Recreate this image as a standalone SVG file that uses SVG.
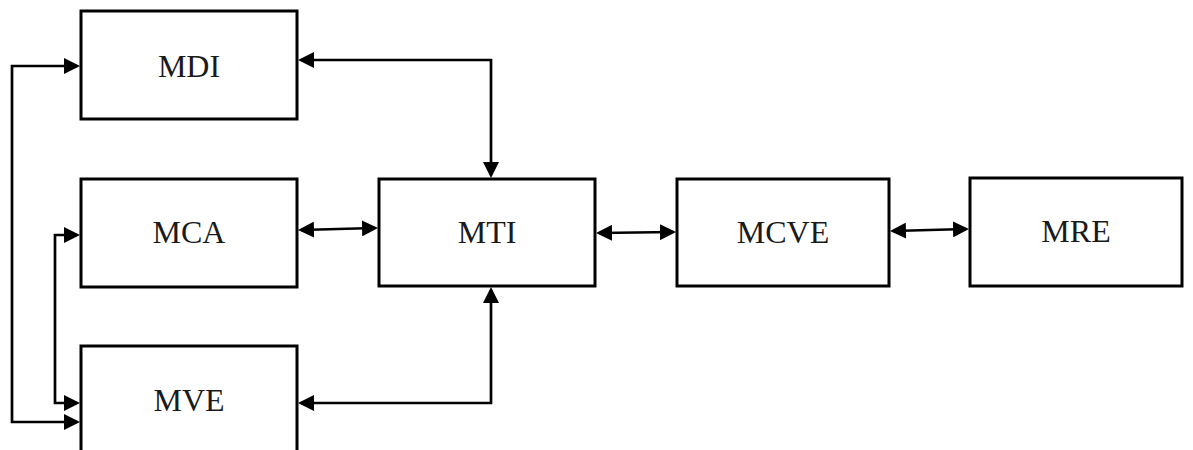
<svg xmlns="http://www.w3.org/2000/svg" width="1193" height="450" viewBox="0 0 1193 450">
<style>
.box{fill:#fff;stroke:#000;stroke-width:3}
.lbl{font-family:"Liberation Serif","Times New Roman",serif;font-size:32px;fill:#1a1a1a;text-anchor:middle}
.con{fill:none;stroke:#000;stroke-width:2.7;marker-start:url(#ah);marker-end:url(#ah)}
</style>
<defs>
<marker id="ah" markerUnits="userSpaceOnUse" markerWidth="16" markerHeight="16" refX="13" refY="8" orient="auto-start-reverse" viewBox="0 0 16 16">
<path d="M0,0 L16,8 L0,16 Z" fill="#000"/>
</marker>
</defs>
<rect width="1193" height="450" fill="#fff"/>
<g id="MDI"><rect class="box" x="81" y="11" width="216" height="108"/><text class="lbl" x="189" y="77">MDI</text></g>
<g id="MCA"><rect class="box" x="81" y="179" width="216" height="108"/><text class="lbl" x="189" y="243">MCA</text></g>
<g id="MVE"><rect class="box" x="81" y="346" width="216" height="130"/><text class="lbl" x="189" y="411">MVE</text></g>
<g id="MTI"><rect class="box" x="379" y="179" width="216" height="107"/><text class="lbl" x="487" y="243">MTI</text></g>
<g id="MCVE"><rect class="box" x="677" y="179" width="212" height="107"/><text class="lbl" x="783" y="243">MCVE</text></g>
<g id="MRE"><rect class="box" x="970" y="178" width="212" height="108"/><text class="lbl" x="1076" y="242">MRE</text></g>
<g id="connectors">
<path class="con" d="M77,66 H12 V422 H77"/>
<path class="con" d="M77,235 H55 V403 H77"/>
<path class="con" d="M301,60 H491 V175"/>
<path class="con" d="M301,230 L375,228"/>
<path class="con" d="M599,233 L673,232"/>
<path class="con" d="M893,231 L966,229"/>
<path class="con" d="M491,290 V403 H301"/>
</g>
</svg>
